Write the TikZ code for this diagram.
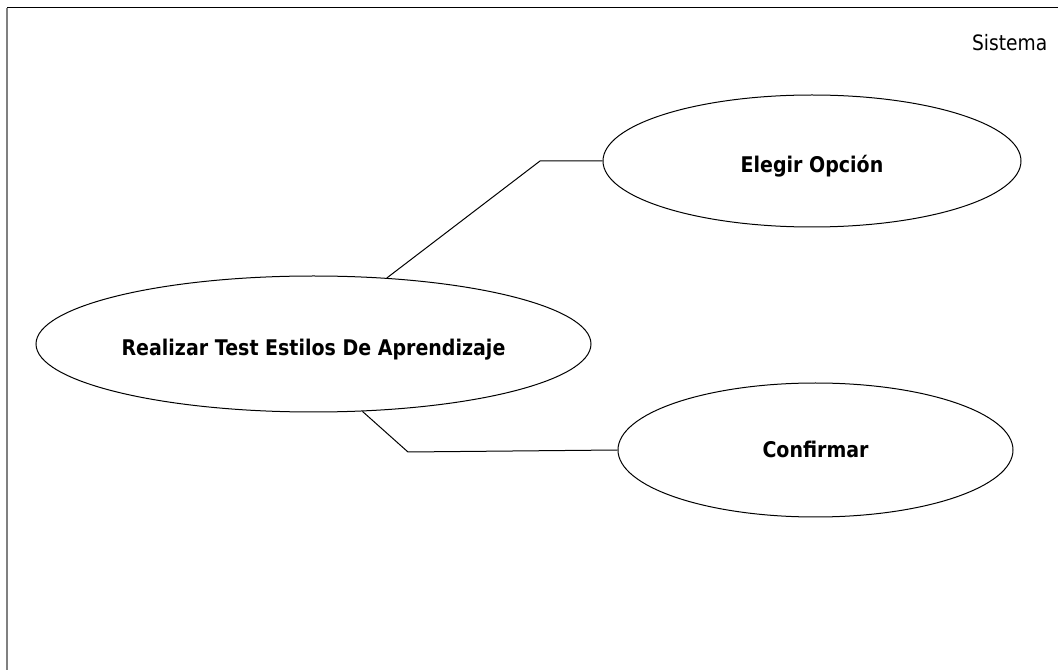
\documentclass[tikz,border=0pt]{standalone}
\usepackage{fontspec}
\setmainfont{DejaVu Sans}[FakeStretch=0.88]
\usetikzlibrary{shapes.geometric}
\begin{document}
\begin{tikzpicture}[x=0.75pt,y=-0.75pt,
  usecase/.style={draw=black,line width=0.75pt,ellipse,inner sep=0pt,
    text depth=0pt,text height=18pt,
    font=\fontsize{16.2}{19}\selectfont\bfseries},
  link/.style={draw=black,line width=0.75pt},
]
\useasboundingbox (0,0) rectangle (1058,670);
% system boundary
\draw[line width=0.75pt,black] (7,8) -- (1058,8);
\draw[line width=1.3pt,black!50] (7,8) -- (7,670);
\node[anchor=base east,font=\fontsize{15.9}{19}\selectfont] (sys) at (1052,51) {Sistema};

% use cases (sizes in pt = px * 0.75)
\node[usecase,minimum width=416.25pt,minimum height=102pt] (real) at (313.5,344) {Realizar Test Estilos De Aprendizaje};
\node[usecase,minimum width=313.5pt,minimum height=99pt] (eleg) at (812,161) {Elegir Opción};
\node[usecase,minimum width=296.25pt,minimum height=100.5pt,text height=12pt] (conf) at (815.5,450) {Confirmar};

% associations
\coordinate (b1) at (540,161);
\coordinate (b2) at (408,452);
\draw[link] (real.42.7) -- (b1) -- (eleg.west);
\draw[link] (real.-54) -- (b2) -- (conf.west);
\end{tikzpicture}
\end{document}
